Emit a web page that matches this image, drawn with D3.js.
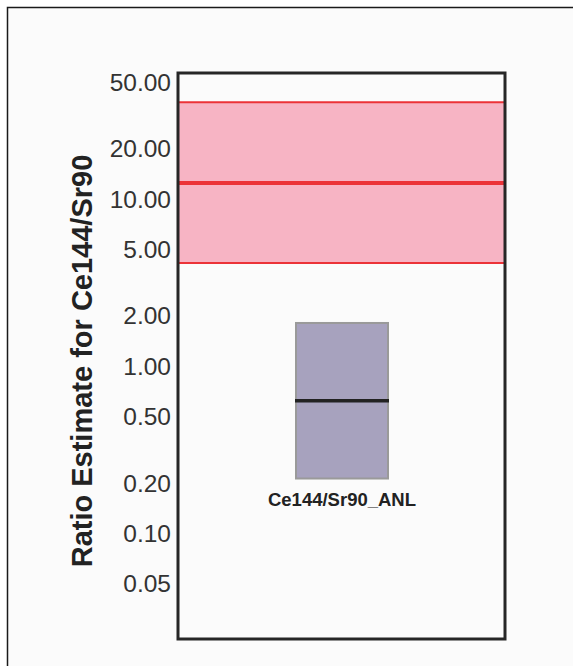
<!DOCTYPE html>
<html>
<head>
<meta charset="utf-8">
<script src="https://cdn.jsdelivr.net/npm/d3@7"></script>
<style>
  html, body { margin: 0; padding: 0; background: #ffffff; }
  svg { display: block; }
</style>
</head>
<body>
<script>
// Ratio estimate: reference band (low / central / high) and one sample box
const bandValues = [4.16, 12.5, 38];            // low, central, high
const boxCategories = ["Ce144/Sr90_ANL"];
const boxLow = [0.214];
const boxMedian = [0.623];
const boxHigh = [1.82];
const tickValues = [0.05, 0.1, 0.2, 0.5, 1, 2, 5, 10, 20, 50];
const tickLabels = ["0.05", "0.10", "0.20", "0.50", "1.00", "2.00", "5.00", "10.00", "20.00", "50.00"];
const yTitle = "Ratio Estimate for Ce144/Sr90";

const W = 573, H = 666;
const plot = { left: 178, right: 505, top: 73, bottom: 639 };
const FONT = "Liberation Sans, Arial, sans-serif";

const svg = d3.select("body").append("svg")
  .attr("width", W).attr("height", H);

// outer panel
svg.append("rect")
  .attr("x", 7.5).attr("y", 7.5)
  .attr("width", W + 20).attr("height", H + 20)
  .attr("fill", "#fbfbfb")
  .attr("stroke", "#1a1a1a").attr("stroke-width", 1.5);

const y = d3.scaleLog()
  .domain([0.0235, 56.8])
  .range([plot.bottom, plot.top]);

const x = d3.scaleBand()
  .domain(boxCategories)
  .range([plot.left, plot.right])
  .paddingInner(0).paddingOuter(0);

// plot area background
svg.append("rect")
  .attr("x", plot.left).attr("y", plot.top)
  .attr("width", plot.right - plot.left).attr("height", plot.bottom - plot.top)
  .attr("fill", "#fbfbfb");

// reference band
const [bLow, bMid, bHigh] = bandValues;
svg.append("rect")
  .attr("x", plot.left).attr("width", plot.right - plot.left)
  .attr("y", y(bHigh)).attr("height", y(bLow) - y(bHigh))
  .attr("fill", "#f7b4c4");
[[bHigh, 2], [bLow, 2], [bMid, 4]].forEach(([v, w]) => {
  svg.append("line")
    .attr("x1", plot.left).attr("x2", plot.right)
    .attr("y1", y(v)).attr("y2", y(v))
    .attr("stroke", "#ec3338").attr("stroke-width", w);
});

// box
const boxW = 92;
boxCategories.forEach((c, i) => {
  const cx = x(c) + x.bandwidth() / 2 + 0.5;
  svg.append("rect")
    .attr("x", cx - boxW / 2).attr("width", boxW)
    .attr("y", y(boxHigh[i])).attr("height", y(boxLow[i]) - y(boxHigh[i]))
    .attr("fill", "#a7a2be")
    .attr("stroke", "#9a9a9a").attr("stroke-width", 2);
  svg.append("line")
    .attr("x1", cx - boxW / 2 - 1).attr("x2", cx + boxW / 2 + 1)
    .attr("y1", y(boxMedian[i])).attr("y2", y(boxMedian[i]))
    .attr("stroke", "#222").attr("stroke-width", 3.5);
  svg.append("text")
    .attr("x", cx).attr("y", y(boxLow[i]) + 27)
    .attr("text-anchor", "middle")
    .attr("font-family", FONT)
    .attr("font-weight", "bold").attr("font-size", 18.5)
    .attr("fill", "#222")
    .text(c);
});

// frame
svg.append("rect")
  .attr("x", plot.left).attr("y", plot.top)
  .attr("width", plot.right - plot.left).attr("height", plot.bottom - plot.top)
  .attr("fill", "none").attr("stroke", "#262626").attr("stroke-width", 3);

// y axis labels
const axis = d3.axisLeft(y)
  .tickValues(tickValues)
  .tickFormat((d, i) => tickLabels[i])
  .tickSize(0).tickPadding(6);
const g = svg.append("g")
  .attr("transform", `translate(${plot.left - 1},0)`)
  .call(axis);
g.select(".domain").remove();
g.selectAll("text")
  .attr("font-family", FONT)
  .attr("font-size", 24.5).attr("fill", "#333");

// y title
svg.append("text")
  .attr("transform", `translate(92,361) rotate(-90)`)
  .attr("text-anchor", "middle")
  .attr("font-family", FONT)
  .attr("font-weight", "bold").attr("font-size", 29)
  .attr("fill", "#222")
  .text(yTitle);
</script>
</body>
</html>
